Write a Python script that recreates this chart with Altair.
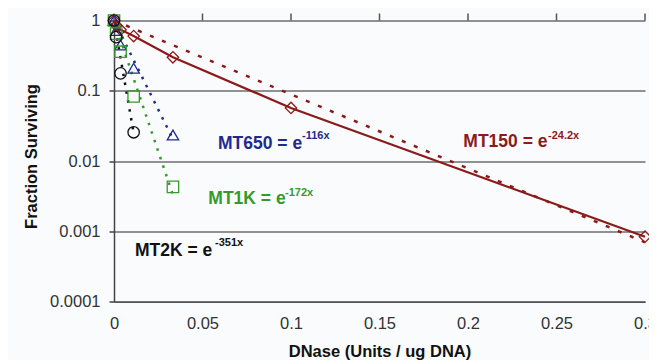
import altair as alt
import pandas as pd

# ---- data ----
doses = [0, 0.00123, 0.0037, 0.0111, 0.0333, 0.1, 0.3]
mt150 = [1, 0.85, 0.74, 0.6, 0.3, 0.057, 0.00084]
mt650 = [1, 0.72, 0.45, 0.21, 0.0235]
mt1k = [1, 0.65, 0.36, 0.083, 0.0043]
mt2k = [1, 0.58, 0.177, 0.0257]

series_names = ["MT150", "MT650", "MT1K", "MT2K"]
series_colors = ["#8b1a1a", "#1f2a8c", "#369a2a", "#111111"]
series_shapes = ["diamond", "triangle-up", "square", "circle"]
series_dash = [[4, 9], [2.5, 6.5], [2.5, 6.5], [2.5, 6.5]]

# exponential trend lines (start and end)
fit_x_start = [0, 0, 0, 0]
fit_y_start = [1, 1, 1, 1]
fit_x_end = [0.3, 0.0333, 0.0333, 0.0111]
fit_y_end = [0.0007, 0.0205, 0.0033, 0.025]

x_ticks = [0, 0.05, 0.1, 0.15, 0.2, 0.25, 0.3]
y_ticks = [0.0001, 0.001, 0.01, 0.1, 1]

# ---- tables ----
rows = []
for name, vals in zip(series_names, [mt150, mt650, mt1k, mt2k]):
    for d, v in zip(doses, vals):
        rows.append({"series": name, "dose": d, "frac": v})
pts = pd.DataFrame(rows)

fit_rows = []
for i, name in enumerate(series_names):
    fit_rows.append({"series": name, "dose": fit_x_start[i], "frac": fit_y_start[i]})
    fit_rows.append({"series": name, "dose": fit_x_end[i], "frac": fit_y_end[i]})
fits = pd.DataFrame(fit_rows)

top_ticks = pd.DataFrame({"dose": x_ticks})

FONT = "Liberation Sans"
xs = alt.Scale(domain=[0, 0.3], nice=False, zero=False)
ys = alt.Scale(type="log", domain=[0.0001, 1], nice=False)
color = alt.Color("series:N", scale=alt.Scale(domain=series_names, range=series_colors), legend=None)

base_x = alt.X("dose:Q", scale=xs, axis=alt.Axis(
    values=x_ticks, format="~g", ticks=False, tickSize=0, grid=False, domainColor="#555", domainWidth=1.5,
    labelFont=FONT, labelFontSize=16.5, labelColor="#333", labelPadding=14, labelFlush=False,
    title="DNase (Units / ug DNA)", titleFont=FONT, titleFontSize=16.5, titleFontWeight="bold",
    titleColor="#111", titleY=54.5, titleBaseline="alphabetic"))
base_y = alt.Y("frac:Q", scale=ys, axis=alt.Axis(
    values=y_ticks, format="~g", grid=True, gridColor="#6e6e6e", gridWidth=1.5,
    domainColor="#444", domainWidth=1.5, tickColor="#444", tickSize=5, tickWidth=1.5,
    labelFont=FONT, labelFontSize=16.5, labelColor="#333", labelPadding=9,
    title="Fraction Surviving", titleFont=FONT, titleFontSize=16.5, titleFontWeight="bold",
    titleColor="#111", titleX=-78, titleY=135.5, titleBaseline="alphabetic"))

fit_layer = alt.Chart(fits).mark_line(strokeWidth=2.5).encode(
    x=base_x,
    y=base_y,
    color=color,
    strokeDash=alt.StrokeDash("series:N", scale=alt.Scale(domain=series_names, range=series_dash), legend=None),
    detail="series:N",
)

tick_layer = alt.Chart(top_ticks).mark_rule(color="#555", strokeWidth=1.5).encode(
    x=alt.X("dose:Q", scale=xs),
    y=alt.value(-7),
    y2=alt.value(0),
)

solid_layer = alt.Chart(pts[pts.series == "MT150"]).mark_line(strokeWidth=2.2, color="#8b1a1a").encode(
    x=alt.X("dose:Q", scale=xs),
    y=alt.Y("frac:Q", scale=ys),
)

point_layer = alt.Chart(pts).mark_point(filled=False, size=130, strokeWidth=1.3, opacity=1).encode(
    x=alt.X("dose:Q", scale=xs),
    y=alt.Y("frac:Q", scale=ys),
    color=color,
    shape=alt.Shape("series:N", scale=alt.Scale(domain=series_names, range=series_shapes), legend=None),
)

def label(text, x, y, col, size):
    return alt.Chart(alt.Data(values=[{}])).mark_text(
        text=text, align="left", baseline="alphabetic", font=FONT, fontWeight="bold",
        fontSize=size, color=col).encode(x=alt.value(x), y=alt.value(y))

texts = [
    label("MT650 = e", 104, 128.5, "#1f2a8c", 17.5),
    label("-116x", 188, 118.8, "#1f2a8c", 11),
    label("MT150 = e", 349.3, 126.8, "#8b1a1a", 17.5),
    label("-24.2x", 434, 118.8, "#8b1a1a", 11),
    label("MT1K = e", 94.3, 183.5, "#369a2a", 17.5),
    label("-172x", 171, 175, "#369a2a", 11),
    label("MT2K = e", 21, 235.5, "#111111", 17.5),
    label("-351x", 101, 225.2, "#111111", 11),
]

chart = alt.layer(fit_layer, tick_layer, solid_layer, point_layer, *texts).properties(
    width=531, height=281.2,
    autosize=alt.AutoSizeParams(type="none"),
    padding={"left": 106, "top": 12.5, "right": 4, "bottom": 58.3},
    background="#f9fbfc",
).configure_view(stroke=None)

chart.save("out.html", embed_options={"renderer": "svg", "actions": False})
